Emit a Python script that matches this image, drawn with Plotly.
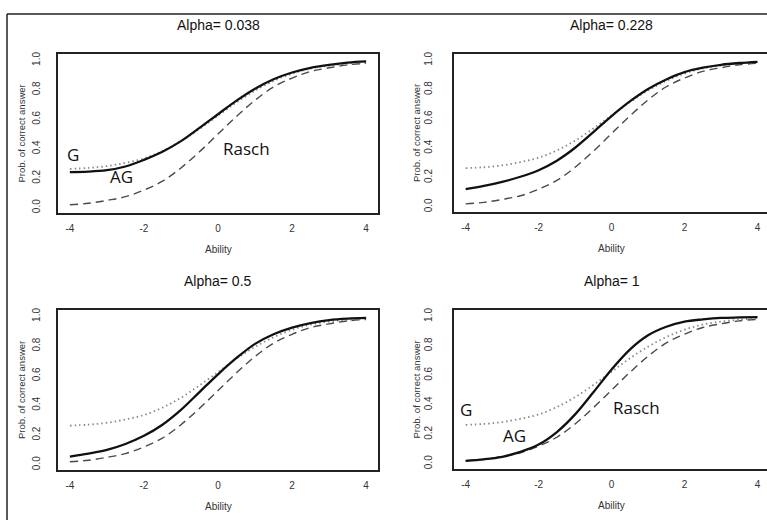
import plotly.graph_objects as go

W, H = 767, 520

# ---------------- data ----------------
ability = [-4, -3.5, -3, -2.5, -2, -1.5, -1, -0.5, 0, 0.5, 1, 1.5, 2, 2.5, 3, 3.5, 4]

rasch = [0.02, 0.03, 0.05, 0.075, 0.12, 0.18, 0.27, 0.38, 0.50, 0.62, 0.73, 0.82, 0.88, 0.925, 0.95, 0.97, 0.98]
g_model = [0.264, 0.27, 0.283, 0.305, 0.335, 0.385, 0.452, 0.535, 0.625, 0.715, 0.795, 0.86, 0.91, 0.945, 0.965, 0.978, 0.987]

ag_0038 = [0.242, 0.245, 0.255, 0.28, 0.325, 0.38, 0.452, 0.542, 0.635, 0.727, 0.808, 0.872, 0.918, 0.95, 0.97, 0.985, 0.993]
ag_0228 = [0.12, 0.142, 0.17, 0.205, 0.25, 0.315, 0.403, 0.51, 0.62, 0.72, 0.805, 0.87, 0.92, 0.95, 0.97, 0.982, 0.99]
ag_05 = [0.055, 0.075, 0.10, 0.14, 0.195, 0.27, 0.37, 0.49, 0.61, 0.72, 0.815, 0.88, 0.925, 0.955, 0.975, 0.985, 0.99]
ag_1 = [0.02, 0.03, 0.047, 0.08, 0.13, 0.215, 0.335, 0.485, 0.64, 0.775, 0.872, 0.93, 0.965, 0.98, 0.99, 0.993, 0.995]

titles = ["Alpha= 0.038", "Alpha= 0.228", "Alpha= 0.5", "Alpha= 1"]
ag_series = [ag_0038, ag_0228, ag_05, ag_1]
x_ticks = [-4, -2, 0, 2, 4]
y_ticks = [0, 0.2, 0.4, 0.6, 0.8, 1.0]
y_ticktext = ["0.0", "0.2", "0.4", "0.6", "0.8", "1.0"]
x_title = "Ability"
y_title = "Prob. of correct answer"
curve_labels = ["G", "AG", "Rasch"]
label_pos_p1 = [(-3.92, 0.36), (-2.6, 0.21), (0.77, 0.40)]
label_pos_p4 = [(-3.99, 0.365), (-2.65, 0.19), (0.68, 0.38)]

# ---------------- layout geometry (pixels) ----------------
# (left, right, top, bottom) of each plot box
boxes = [(58, 378, 52, 212), (454, 767, 52, 211), (58, 378, 309, 470), (454, 767, 309, 469)]
xranges = [[-4.32, 4.32], [-4.32, 4.26], [-4.32, 4.32], [-4.32, 4.26]]
yrange = [-0.037, 1.045]

fig = go.Figure()
FONT = "Liberation Sans, Arial, sans-serif"

for i in range(4):
    xa = "x" if i == 0 else f"x{i+1}"
    ya = "y" if i == 0 else f"y{i+1}"
    fig.add_trace(go.Scatter(x=ability, y=rasch, mode="lines", line_shape="spline",
                             line=dict(color="#4a4a4a", width=1.4, dash="8px,5px"),
                             xaxis=xa, yaxis=ya, showlegend=False))
    fig.add_trace(go.Scatter(x=ability, y=g_model, mode="lines", line_shape="spline",
                             line=dict(color="#8a8a8a", width=1.8, dash="1.5px,3px"),
                             xaxis=xa, yaxis=ya, showlegend=False))
    fig.add_trace(go.Scatter(x=ability, y=ag_series[i], mode="lines", line_shape="spline",
                             line=dict(color="#111111", width=2.3),
                             xaxis=xa, yaxis=ya, showlegend=False))

layout = dict(width=W, height=H, margin=dict(l=0, r=0, t=0, b=0),
              paper_bgcolor="white", plot_bgcolor="white", showlegend=False)

annotations = []
for i, (l, r, t, b) in enumerate(boxes):
    xk = "xaxis" if i == 0 else f"xaxis{i+1}"
    yk = "yaxis" if i == 0 else f"yaxis{i+1}"
    xa = "x" if i == 0 else f"x{i+1}"
    ya = "y" if i == 0 else f"y{i+1}"
    right_panel = i in (1, 3)
    layout[xk] = dict(domain=[l / W, r / W], range=xranges[i], anchor=ya,
                      tickvals=x_ticks, ticktext=[str(v) for v in x_ticks],
                      showline=True, mirror=True, linecolor="#222", linewidth=2,
                      ticks="", showgrid=False, zeroline=False,
                      ticklabelstandoff=5,
                      tickfont=dict(family=FONT, size=10, color="#333"))
    layout[yk] = dict(domain=[1 - b / H, 1 - t / H], range=yrange, anchor=xa,
                      tickvals=y_ticks, ticktext=y_ticktext, tickangle=-90,
                      showline=True, mirror=(not right_panel), linecolor="#222", linewidth=2,
                      ticks="", showgrid=False, zeroline=False,
                      ticklabelstandoff=12 if not right_panel else 16,
                      tickfont=dict(family=FONT, size=10, color="#333"))
    x0px = l + (0 - xranges[i][0]) / (xranges[i][1] - xranges[i][0]) * (r - l)
    annotations.append(dict(text=titles[i], x=x0px / W, y=1 - (t - 29) / H, xref="paper", yref="paper",
                            showarrow=False, xanchor="center", yanchor="middle",
                            font=dict(family=FONT, size=14, color="#111")))
    annotations.append(dict(text=x_title, x=x0px / W, y=1 - (b + 36) / H, xref="paper", yref="paper",
                            showarrow=False, xanchor="center", yanchor="middle",
                            font=dict(family=FONT, size=10, color="#333")))
    ycen = (t + b) / 2
    annotations.append(dict(text=y_title, x=(l - 37) / W, y=1 - ycen / H, xref="paper", yref="paper",
                            showarrow=False, xanchor="center", yanchor="middle", textangle=-90,
                            font=dict(family=FONT, size=9.5, color="#333")))

for pos, (xa, ya) in ((label_pos_p1, ("x", "y")), (label_pos_p4, ("x4", "y4"))):
    for txt, (lx, ly) in zip(curve_labels, pos):
        annotations.append(dict(text=txt, x=lx, y=ly, xref=xa, yref=ya, showarrow=False,
                                xanchor="center", yanchor="middle",
                                font=dict(family="Open Sans, sans-serif", size=17, color="#111")))

layout["annotations"] = annotations
layout["shapes"] = [
    dict(type="line", xref="paper", yref="paper", x0=7 / W, x1=1, y0=1 - 12 / H, y1=1 - 12 / H,
         line=dict(color="#222", width=1.5)),
    dict(type="line", xref="paper", yref="paper", x0=7 / W, x1=7 / W, y0=0, y1=1 - 12 / H,
         line=dict(color="#222", width=1.5)),
]
fig.update_layout(**layout)
fig.write_html("out.html", config={"displayModeBar": False},
               post_script="document.body.style.margin='0';document.body.style.overflow='hidden';")
